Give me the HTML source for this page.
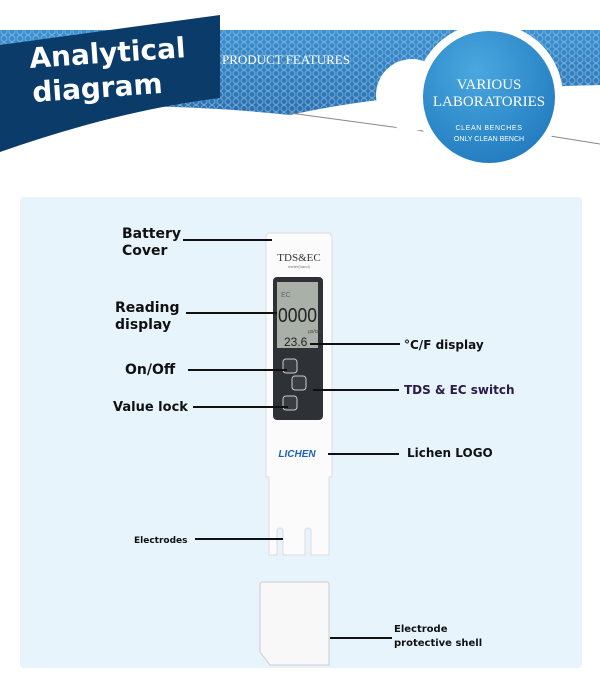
<!DOCTYPE html>
<html><head><meta charset="utf-8"><style>
body{margin:0;width:600px;height:697px;background:#fff;position:relative;overflow:hidden;font-family:"Liberation Sans","DejaVu Sans",sans-serif}
.l{position:absolute;font-weight:bold;color:#111;font-family:"DejaVu Sans","Liberation Sans",sans-serif;line-height:17px}
.ln{position:absolute;height:2px;background:#111}
</style></head><body>
<svg width="600" height="697" style="position:absolute;left:0;top:0">
<defs>
<pattern id="hc" width="8" height="7" patternUnits="userSpaceOnUse"><circle cx="4" cy="3.5" r="3" fill="none" stroke="#8fc0e6" stroke-width="1"/></pattern>
<radialGradient id="bg1" cx="0.4" cy="0.3" r="0.8"><stop offset="0" stop-color="#4aa8df"/><stop offset="1" stop-color="#1f78bd"/></radialGradient>
<linearGradient id="band" x1="0" y1="0" x2="0" y2="1"><stop offset="0" stop-color="#3b8fd0"/><stop offset="1" stop-color="#2a6fae"/></linearGradient>
</defs>
<path d="M0 30 L600 30 L600 85 Q400 90 290 115 Q150 100 0 110 Z" fill="url(#band)"/>
<path d="M0 30 L600 30 L600 85 Q400 90 290 115 Q150 100 0 110 Z" fill="url(#hc)" opacity="0.7"/>
<path d="M0 45 L220 15 L220 98 Q120 110 0 152 Z" fill="#0b3c69"/>
<line x1="290" y1="113" x2="430" y2="132" stroke="#888" stroke-width="1"/>
<line x1="550" y1="136" x2="600" y2="144" stroke="#888" stroke-width="1"/>
<circle cx="412" cy="95" r="36" fill="#fff"/>
<circle cx="489" cy="97" r="74" fill="#fff"/>
<circle cx="489" cy="97" r="66" fill="url(#bg1)"/>
<text x="489" y="89" font-family="Liberation Serif,serif" font-size="15" fill="#fff" text-anchor="middle">VARIOUS</text>
<text x="489" y="106" font-family="Liberation Serif,serif" font-size="15" fill="#fff" text-anchor="middle">LABORATORIES</text>
<text x="489" y="130" font-size="7" fill="#fff" text-anchor="middle" letter-spacing="0.6">CLEAN BENCHES</text>
<text x="489" y="141" font-size="7" fill="#fff" text-anchor="middle">ONLY CLEAN BENCH</text>
<text x="222" y="64" font-family="Liberation Serif,serif" font-size="13" fill="#fff">PRODUCT FEATURES</text>
<text x="30" y="68" font-family="DejaVu Sans,sans-serif" font-weight="bold" font-size="28" fill="#fff" transform="rotate(-4 30 68)">Analytical</text>
<text x="33" y="102" font-family="DejaVu Sans,sans-serif" font-weight="bold" font-size="28" fill="#fff" transform="rotate(-4 33 102)">diagram</text>
<rect x="20" y="197" width="562" height="471" rx="4" fill="#e7f4fc"/>
<!-- pen -->
<path d="M269 555 L269 477 L266 477 L266 237 Q266 233 270 233 L330 233 L332 237 L332 477 L329 477 L329 555 L311 555 L311 530 Q308 526 305 530 L305 555 L283 555 L283 530 Q280 526 277 530 L277 555 Z" fill="#fbfbfb" stroke="#ddd" stroke-width="1"/>
<rect x="273" y="277" width="50" height="143" rx="4" fill="#2e3236"/>
<rect x="277" y="282" width="41" height="66" fill="#a9b0a7"/>
<text x="281" y="297" font-size="7" fill="#666">EC</text>
<text x="278" y="322" font-size="20" fill="#222" textLength="39" lengthAdjust="spacingAndGlyphs">0000</text>
<text x="308" y="333" font-size="5" fill="#444">μs/cm</text>
<text x="284" y="346" font-size="12" fill="#222">23.6</text>
<rect x="283" y="359" width="14" height="14" rx="3" fill="#3a3e42" stroke="#ccc"/>
<rect x="292" y="376" width="14" height="14" rx="3" fill="#3a3e42" stroke="#ccc"/>
<rect x="283" y="396" width="14" height="14" rx="3" fill="#3a3e42" stroke="#ccc"/>
<text x="299" y="261" font-family="Liberation Serif,serif" font-size="11" fill="#333" text-anchor="middle">TDS&amp;EC</text>
<text x="299" y="268" font-size="4" fill="#777" text-anchor="middle">meter(hand)</text>
<text x="297" y="457" font-size="10" font-weight="bold" font-style="italic" fill="#1d62b8" text-anchor="middle">LICHEN</text>
<path d="M262 582 L327 582 Q329 582 329 585 L329 665 L270 665 L260 652 L260 585 Q260 582 263 582 Z" fill="#f8f8f8" stroke="#ccc"/>
</svg>
<div class="l" style="left:122px;top:226px;font-size:14px">Battery<br>Cover</div><div class="ln" style="left:183px;top:239px;width:89px"></div>
<div class="l" style="left:115px;top:300px;font-size:14px">Reading<br>display</div><div class="ln" style="left:186px;top:312px;width:91px"></div>
<div class="l" style="left:125px;top:362px;font-size:14px">On/Off</div><div class="ln" style="left:188px;top:369px;width:99px"></div>
<div class="l" style="left:113px;top:399px;font-size:13px">Value lock</div><div class="ln" style="left:193px;top:406px;width:95px"></div>
<div class="l" style="left:134px;top:533px;font-size:9px">Electrodes</div><div class="ln" style="left:195px;top:538px;width:88px"></div>
<div class="l" style="left:404px;top:337px;font-size:12px">°C/F display</div><div class="ln" style="left:310px;top:343px;width:90px"></div>
<div class="l" style="left:404px;top:382px;font-size:12px;color:#2a1a45">TDS &amp; EC switch</div><div class="ln" style="left:313px;top:389px;width:86px"></div>
<div class="l" style="left:407px;top:445px;font-size:12px">Lichen LOGO</div><div class="ln" style="left:328px;top:453px;width:71px"></div>
<div class="l" style="left:394px;top:623px;font-size:10px;line-height:14px">Electrode<br>protective shell</div><div class="ln" style="left:330px;top:637px;width:62px"></div>
</body></html>
